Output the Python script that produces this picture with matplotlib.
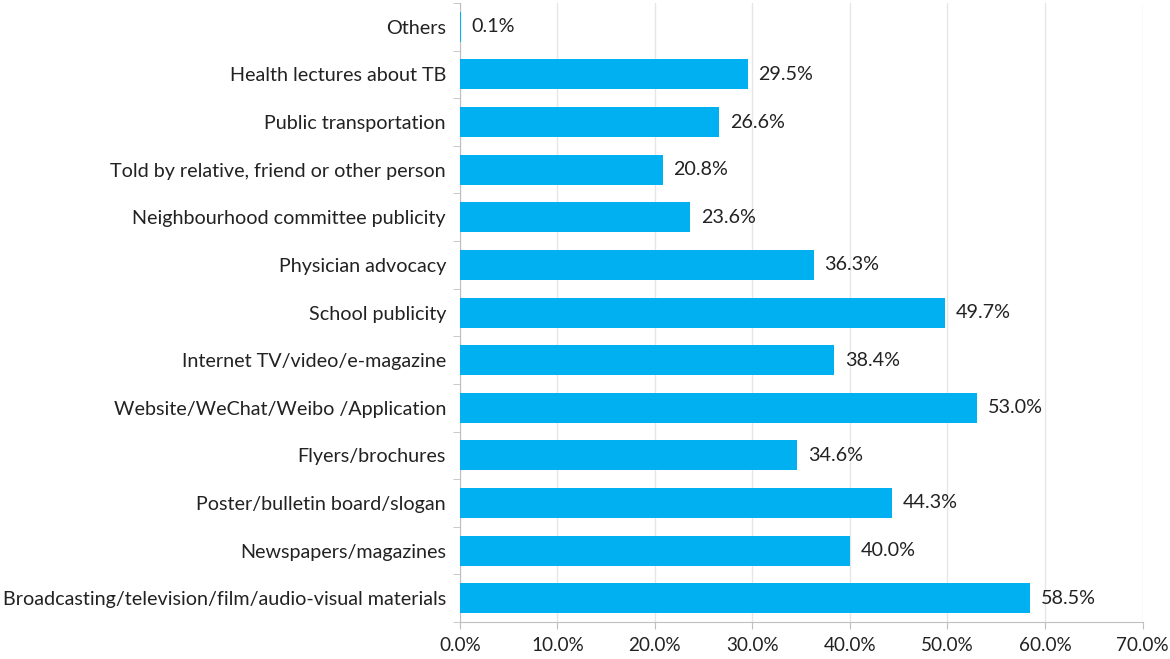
import matplotlib.pyplot as plt
from matplotlib.ticker import FixedLocator, NullFormatter

plt.rcParams['font.family'] = ['Lato', 'DejaVu Sans']

categories = [
    'Broadcasting/television/film/audio-visual materials',
    'Newspapers/magazines',
    'Poster/bulletin board/slogan',
    'Flyers/brochures',
    'Website/WeChat/Weibo /Application',
    'Internet TV/video/e-magazine',
    'School publicity',
    'Physician advocacy',
    'Neighbourhood committee publicity',
    'Told by relative, friend or other person',
    'Public transportation',
    'Health lectures about TB',
    'Others',
]
values = [58.5, 40.0, 44.3, 34.6, 53.0, 38.4, 49.7, 36.3, 23.6, 20.8, 26.6, 29.5, 0.1]
xticks = [0, 10, 20, 30, 40, 50, 60, 70]

fs = 14.2
fig = plt.figure(figsize=(11.7, 6.59), dpi=100)
ax = fig.add_axes([0.393, 0.0561, 0.5835, 0.9393])

y = list(range(len(categories)))
ax.barh(y, values, height=0.63, color='#00B0F0', zorder=3)
for yi, v in zip(y, values):
    ax.text(v + 1.1, yi, f'{v:.1f}%', va='center', ha='left', fontsize=fs, color='#222222')

ax.set_xlim(0, 70)
ax.set_ylim(-0.5, len(categories) - 0.5)
ax.set_xticks(xticks)
ax.set_xticklabels([f'{t:.1f}%' for t in xticks], fontsize=13.6, color='#222222')
ax.set_yticks(y)
ax.set_yticklabels(categories, fontsize=fs, color='#222222')
ax.tick_params(axis='y', length=0, pad=10)
ax.yaxis.set_minor_locator(FixedLocator([i - 0.5 for i in range(len(categories) + 1)]))
ax.yaxis.set_minor_formatter(NullFormatter())
ax.tick_params(axis='y', which='minor', length=5, color='#bfbfbf')
ax.tick_params(axis='x', length=5, color='#bfbfbf', pad=6)
ax.grid(axis='x', color='#e6e6e6', linewidth=1, zorder=0)

for s in ['top', 'right']:
    ax.spines[s].set_visible(False)
ax.spines['left'].set_color('#bfbfbf')
ax.spines['bottom'].set_color('#bfbfbf')

fig.savefig('out.png', dpi=100)
